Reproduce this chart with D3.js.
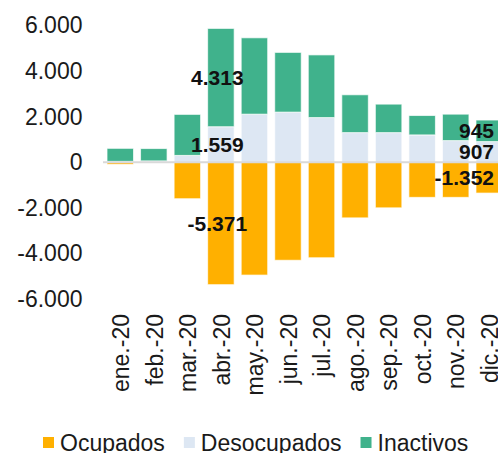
<!DOCTYPE html>
<html>
<head>
<meta charset="utf-8">
<script src="https://cdn.jsdelivr.net/npm/d3@7"></script>
<style>
  html, body { margin: 0; padding: 0; background: #fff; }
  svg { display: block; font-family: "Liberation Sans", Arial, sans-serif; }
</style>
</head>
<body>
<svg id="chart" width="498" height="453"></svg>
<script>
const months = ["ene.-20","feb.-20","mar.-20","abr.-20","may.-20","jun.-20","jul.-20","ago.-20","sep.-20","oct.-20","nov.-20","dic.-20"];
const ocupados = [-90, -15, -1600, -5371, -4950, -4300, -4190, -2440, -2000, -1540, -1540, -1352];
const desocupados = [40, 60, 300, 1559, 2110, 2200, 1960, 1300, 1300, 1200, 950, 907];
const inactivos = [570, 540, 1800, 4313, 3350, 2620, 2750, 1660, 1250, 850, 1160, 945];
const yTicks = [-6000, -4000, -2000, 0, 2000, 4000, 6000];
const seriesNames = ["Ocupados", "Desocupados", "Inactivos"];
const colors = ["#FFB000", "#DDE7F3", "#40B28C"];
// labelled points: [month index, series key]
const labelled = [[3, "Inactivos"], [3, "Desocupados"], [3, "Ocupados"], [11, "Inactivos"], [11, "Desocupados"], [11, "Ocupados"]];

const rows = months.map((m, i) => ({ month: m, Ocupados: ocupados[i], Desocupados: desocupados[i], Inactivos: inactivos[i] }));

const svg = d3.select("#chart");
const x = d3.scaleBand().domain(months).range([103.5, 506]).paddingInner(0.21).paddingOuter(0.105);
const y = d3.scaleLinear().domain([-6000, 6000]).range([299, 25.5]);
const color = d3.scaleOrdinal().domain(seriesNames).range(colors);
const loc = d3.formatLocale({ decimal: ",", thousands: ".", grouping: [3], currency: ["", ""], minus: "-" });
const fmt = loc.format(",d");

const stack = d3.stack().keys(seriesNames).offset(d3.stackOffsetDiverging);
const series = stack(rows);

// bars
const g = svg.append("g");
g.selectAll("g.s").data(series).join("g").attr("class", "s")
  .attr("fill", d => color(d.key))
  .selectAll("rect").data(d => d).join("rect")
  .attr("x", d => x(d.data.month))
  .attr("width", x.bandwidth())
  .attr("y", d => y(Math.max(d[0], d[1])))
  .attr("height", d => Math.abs(y(d[0]) - y(d[1])))
  .attr("stroke", "rgba(255,255,255,0.7)")
  .attr("stroke-width", 1);

// zero line
svg.append("line")
  .attr("x1", 103).attr("x2", 498)
  .attr("y1", y(0)).attr("y2", y(0))
  .attr("stroke", "#D9D9D9").attr("stroke-width", 2);

// y axis
const yAxis = d3.axisLeft(y).tickValues(yTicks).tickFormat(fmt).tickSize(0).tickPadding(0);
const ya = svg.append("g").attr("transform", "translate(82.5,0)").call(yAxis);
ya.select(".domain").remove();
ya.selectAll("text").attr("font-size", 23).attr("fill", "#1a1a1a")
  .attr("font-family", "'Liberation Sans', Arial, sans-serif");

// x axis labels
const xAxis = d3.axisBottom(x).tickSize(0).tickPadding(0);
const xa = svg.append("g").attr("transform", "translate(0,314)").call(xAxis);
xa.select(".domain").remove();
xa.selectAll("text")
  .attr("font-size", 23).attr("fill", "#1a1a1a")
  .attr("font-family", "'Liberation Sans', Arial, sans-serif")
  .attr("text-anchor", "end")
  .attr("transform", "rotate(-90)")
  .attr("x", 0).attr("y", 0).attr("dy", "0.38em");

// data labels
const segLookup = {};
series.forEach(s => s.forEach((d, i) => { segLookup[i + "_" + s.key] = d; }));
labelled.forEach(([i, key]) => {
  const d = segLookup[i + "_" + key];
  const cy = (y(d[0]) + y(d[1])) / 2;
  const last = i === months.length - 1;
  const cx = last ? 494 : x(months[i]) + x.bandwidth() / 2 - 3.5;
  svg.append("text")
    .attr("x", cx).attr("y", cy).attr("dy", "0.36em")
    .attr("text-anchor", last ? "end" : "middle")
    .attr("font-size", 21).attr("font-weight", "bold").attr("fill", "#111")
    .text(fmt(rows[i][key]));
});

// legend
let lx = 43;
const leg = svg.append("g");
seriesNames.forEach(name => {
  leg.append("rect").attr("x", lx).attr("y", 437).attr("width", 11).attr("height", 11).attr("fill", color(name));
  const t = leg.append("text").attr("x", lx + 17).attr("y", 451)
    .attr("font-size", 23).attr("fill", "#1a1a1a").text(name);
  lx = lx + 17 + t.node().getComputedTextLength() + 19;
});
</script>
</body>
</html>
